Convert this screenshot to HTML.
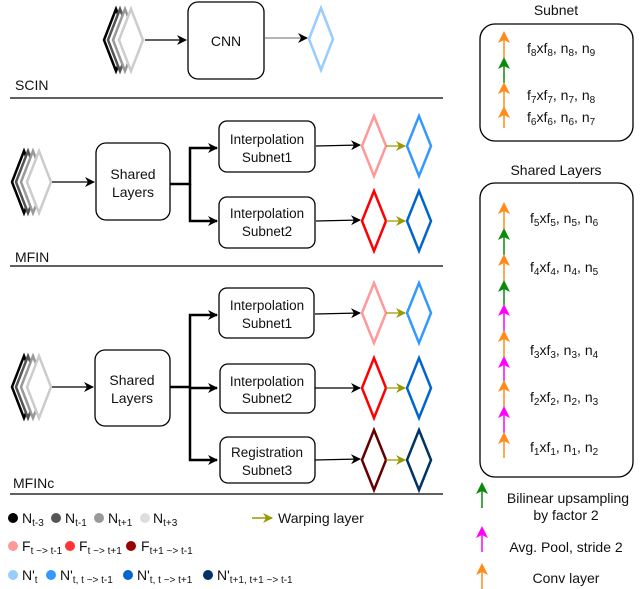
<!DOCTYPE html>
<html><head><meta charset="utf-8"><style>
body{margin:0;background:#fff}
svg{display:block}
text{font-family:"Liberation Sans",sans-serif;fill:#111}
</style></head><body>
<svg width="640" height="589" viewBox="0 0 640 589" xmlns="http://www.w3.org/2000/svg">
<defs>
<marker id="ab" markerWidth="10" markerHeight="10" refX="9" refY="5" orient="auto" markerUnits="userSpaceOnUse"><path d="M0,0 L10,5 L0,10 L3,5 z" fill="#000"/></marker>
<marker id="ao" markerWidth="10" markerHeight="10" refX="9" refY="5" orient="auto" markerUnits="userSpaceOnUse"><path d="M0,0 L10,5 L0,10 L3,5 z" fill="#999900"/></marker>
<marker id="aor" markerWidth="12" markerHeight="12" refX="10" refY="6" orient="auto" markerUnits="userSpaceOnUse"><path d="M0,0 L12,6 L0,12 L3,6 z" fill="#ff8c1a"/></marker>
<marker id="agr" markerWidth="12" markerHeight="12" refX="10" refY="6" orient="auto" markerUnits="userSpaceOnUse"><path d="M0,0 L12,6 L0,12 L3,6 z" fill="#0a8a0a"/></marker>
<marker id="amg" markerWidth="12" markerHeight="12" refX="10" refY="6" orient="auto" markerUnits="userSpaceOnUse"><path d="M0,0 L12,6 L0,12 L3,6 z" fill="#ff00ff"/></marker>
<g id="stack" fill="#fff" stroke-width="2.5">
<polygon points="12,0 24,-31 36,0 24,31" stroke="#000" transform="translate(0,0)"/>
</g>
</defs>

<!-- stacks -->
<g fill="#fff" stroke-width="2.5">
<g transform="translate(92,40)">
<polygon points="0,0 12,-31 24,0 12,31" stroke="#000" transform="translate(12,0)"/>
<polygon points="0,0 12,-31 24,0 12,31" stroke="#555" transform="translate(16,0)"/>
<polygon points="0,0 12,-31 24,0 12,31" stroke="#999" transform="translate(21,0)"/>
<polygon points="0,0 12,-31 24,0 12,31" stroke="#ccc" transform="translate(27,0)"/>
</g>
<g transform="translate(0,182)">
<polygon points="0,0 12,-31 24,0 12,31" stroke="#000" transform="translate(12,0)"/>
<polygon points="0,0 12,-31 24,0 12,31" stroke="#555" transform="translate(16,0)"/>
<polygon points="0,0 12,-31 24,0 12,31" stroke="#999" transform="translate(21,0)"/>
<polygon points="0,0 12,-31 24,0 12,31" stroke="#ccc" transform="translate(27,0)"/>
</g>
<g transform="translate(0,387)">
<polygon points="0,0 12,-31 24,0 12,31" stroke="#000" transform="translate(12,0)"/>
<polygon points="0,0 12,-31 24,0 12,31" stroke="#555" transform="translate(16,0)"/>
<polygon points="0,0 12,-31 24,0 12,31" stroke="#999" transform="translate(21,0)"/>
<polygon points="0,0 12,-31 24,0 12,31" stroke="#ccc" transform="translate(27,0)"/>
</g>
</g>

<!-- SCIN -->
<line x1="145" y1="40" x2="186" y2="40" stroke="#000" stroke-width="1.3" marker-end="url(#ab)"/>
<rect x="188" y="2" width="76" height="77" rx="10" fill="#fff" stroke="#000" stroke-width="1.3"/>
<text x="226" y="46" font-size="14" text-anchor="middle">CNN</text>
<line x1="265" y1="38" x2="307" y2="38" stroke="#888" stroke-width="1.3" marker-end="url(#ab)"/>
<polygon points="309,39 321,8 333,39 321,70" fill="none" stroke="#99ccff" stroke-width="2.5"/>
<text x="15" y="90" font-size="14">SCIN</text>
<line x1="10" y1="98" x2="443" y2="98" stroke="#000" stroke-width="1.3"/>

<!-- MFIN -->
<line x1="52" y1="182" x2="94" y2="182" stroke="#000" stroke-width="1.3" marker-end="url(#ab)"/>
<rect x="96" y="143" width="74" height="77" rx="10" fill="#fff" stroke="#000" stroke-width="1.3"/>
<text x="133" y="179" font-size="14" text-anchor="middle">Shared</text>
<text x="133" y="197" font-size="14" text-anchor="middle">Layers</text>
<polyline points="170,184 190,184 190,148 217,148" fill="none" stroke="#000" stroke-width="2.5" marker-end="url(#ab)"/>
<polyline points="190,184 190,221 217,221" fill="none" stroke="#000" stroke-width="2.5" marker-end="url(#ab)"/>
<rect x="219" y="121" width="96" height="51" rx="8" fill="#fff" stroke="#000" stroke-width="1.3"/>
<text x="267" y="144" font-size="13.5" text-anchor="middle">Interpolation</text>
<text x="267" y="162" font-size="13.5" text-anchor="middle">Subnet1</text>
<rect x="219" y="197" width="96" height="51" rx="8" fill="#fff" stroke="#000" stroke-width="1.3"/>
<text x="267" y="218" font-size="13.5" text-anchor="middle">Interpolation</text>
<text x="267" y="236" font-size="13.5" text-anchor="middle">Subnet2</text>
<line x1="316" y1="146" x2="360" y2="145" stroke="#000" stroke-width="1.3" marker-end="url(#ab)"/>
<line x1="316" y1="221" x2="360" y2="220" stroke="#000" stroke-width="1.3" marker-end="url(#ab)"/>
<polygon points="362,146 374,116 386,146 374,176" fill="none" stroke="#ff9999" stroke-width="2.5"/>
<polygon points="407,146 419,116 431,146 419,176" fill="none" stroke="#3399ff" stroke-width="2.5"/>
<line x1="386" y1="146" x2="405" y2="146" stroke="#999900" stroke-width="1.3" marker-end="url(#ao)"/>
<polygon points="362,221 374,191 386,221 374,251" fill="none" stroke="#ff0000" stroke-width="2.5"/>
<polygon points="407,221 419,191 431,221 419,251" fill="none" stroke="#0066cc" stroke-width="2.5"/>
<line x1="386" y1="221" x2="405" y2="221" stroke="#999900" stroke-width="1.3" marker-end="url(#ao)"/>
<text x="15" y="262" font-size="14">MFIN</text>
<line x1="10" y1="266" x2="443" y2="266" stroke="#000" stroke-width="1.3"/>

<!-- MFINc -->
<line x1="52" y1="387" x2="93" y2="387" stroke="#000" stroke-width="1.3" marker-end="url(#ab)"/>
<rect x="95" y="350" width="75" height="76" rx="10" fill="#fff" stroke="#000" stroke-width="1.3"/>
<text x="132" y="385" font-size="14" text-anchor="middle">Shared</text>
<text x="132" y="403" font-size="14" text-anchor="middle">Layers</text>
<polyline points="170,387 190,387 190,315 217,315" fill="none" stroke="#000" stroke-width="2.5" marker-end="url(#ab)"/>
<line x1="190" y1="388" x2="217" y2="388" stroke="#000" stroke-width="2.5" marker-end="url(#ab)"/>
<polyline points="190,387 190,460 217,460" fill="none" stroke="#000" stroke-width="2.5" marker-end="url(#ab)"/>
<rect x="219" y="288" width="95" height="50" rx="8" fill="#fff" stroke="#000" stroke-width="1.3"/>
<text x="267" y="310" font-size="13.5" text-anchor="middle">Interpolation</text>
<text x="267" y="328" font-size="13.5" text-anchor="middle">Subnet1</text>
<rect x="220" y="364" width="95" height="49" rx="8" fill="#fff" stroke="#000" stroke-width="1.3"/>
<text x="267" y="386" font-size="13.5" text-anchor="middle">Interpolation</text>
<text x="267" y="403" font-size="13.5" text-anchor="middle">Subnet2</text>
<rect x="220" y="437" width="95" height="46" rx="8" fill="#fff" stroke="#000" stroke-width="1.3"/>
<text x="267" y="457" font-size="13.5" text-anchor="middle">Registration</text>
<text x="267" y="475" font-size="13.5" text-anchor="middle">Subnet3</text>
<line x1="315" y1="314" x2="360" y2="313" stroke="#000" stroke-width="1.3" marker-end="url(#ab)"/>
<line x1="315" y1="388" x2="360" y2="388" stroke="#000" stroke-width="1.3" marker-end="url(#ab)"/>
<line x1="315" y1="460" x2="360" y2="459" stroke="#000" stroke-width="1.3" marker-end="url(#ab)"/>
<polygon points="362,313 374,283 386,313 374,343" fill="none" stroke="#ff9999" stroke-width="2.5"/>
<polygon points="407,313 419,283 431,313 419,343" fill="none" stroke="#3399ff" stroke-width="2.5"/>
<line x1="386" y1="313" x2="405" y2="313" stroke="#999900" stroke-width="1.3" marker-end="url(#ao)"/>
<polygon points="362,388 374,358 386,388 374,418" fill="none" stroke="#ff0000" stroke-width="2.5"/>
<polygon points="407,388 419,358 431,388 419,418" fill="none" stroke="#0066cc" stroke-width="2.5"/>
<line x1="386" y1="388" x2="405" y2="388" stroke="#999900" stroke-width="1.3" marker-end="url(#ao)"/>
<polygon points="362,460 374,430 386,460 374,490" fill="none" stroke="#660000" stroke-width="2.5"/>
<polygon points="407,460 419,430 431,460 419,490" fill="none" stroke="#003366" stroke-width="2.5"/>
<line x1="386" y1="460" x2="405" y2="460" stroke="#999900" stroke-width="1.3" marker-end="url(#ao)"/>
<text x="13" y="488" font-size="14">MFINc</text>
<line x1="10" y1="494" x2="443" y2="494" stroke="#000" stroke-width="1.3"/>

<!-- legend left -->
<g font-size="14">
<circle cx="13" cy="518" r="5" fill="#000"/><text x="22" y="523">N<tspan font-size="10" dy="3">t-3</tspan></text>
<circle cx="56" cy="518" r="5" fill="#555"/><text x="65" y="523">N<tspan font-size="10" dy="3">t-1</tspan></text>
<circle cx="99" cy="518" r="5" fill="#999"/><text x="108" y="523">N<tspan font-size="10" dy="3">t+1</tspan></text>
<circle cx="145" cy="518" r="5" fill="#ddd"/><text x="153" y="523">N<tspan font-size="10" dy="3">t+3</tspan></text>
<line x1="252" y1="518" x2="272" y2="518" stroke="#999900" stroke-width="1.5" marker-end="url(#ao)"/>
<text x="278" y="523">Warping layer</text>
<circle cx="13" cy="546" r="5" fill="#ff9999"/><text x="22" y="551">F<tspan font-size="10" dy="3">t ~&gt; t-1</tspan></text>
<circle cx="70" cy="546" r="5" fill="#ff3333"/><text x="79" y="551">F<tspan font-size="10" dy="3">t ~&gt; t+1</tspan></text>
<circle cx="131" cy="546" r="5" fill="#990000"/><text x="141" y="551">F<tspan font-size="10" dy="3">t+1 ~&gt; t-1</tspan></text>
<circle cx="13" cy="575" r="5" fill="#99ccff"/><text x="22" y="580">N'<tspan font-size="10" dy="3">t</tspan></text>
<circle cx="51" cy="575" r="5" fill="#3399ff"/><text x="60" y="580">N'<tspan font-size="10" dy="3">t, t ~&gt; t-1</tspan></text>
<circle cx="128" cy="575" r="5" fill="#0066cc"/><text x="137" y="580">N'<tspan font-size="10" dy="3">t, t ~&gt; t+1</tspan></text>
<circle cx="208" cy="575" r="5" fill="#003366"/><text x="217" y="580">N'<tspan font-size="10" dy="3">t+1, t+1 ~&gt; t-1</tspan></text>
</g>

<!-- Subnet -->
<text x="556" y="15" font-size="14" text-anchor="middle">Subnet</text>
<rect x="480" y="24" width="153" height="117" rx="15" fill="#fff" stroke="#000" stroke-width="1.3"/>
<g stroke-width="1.5">
<line x1="504" y1="58" x2="504" y2="33" stroke="#ff8c1a" marker-end="url(#aor)"/>
<line x1="504" y1="83" x2="504" y2="59" stroke="#0a8a0a" marker-end="url(#agr)"/>
<line x1="504" y1="107" x2="504" y2="84" stroke="#ff8c1a" marker-end="url(#aor)"/>
<line x1="504" y1="128" x2="504" y2="108" stroke="#ff8c1a" marker-end="url(#aor)"/>
</g>
<g font-size="14">
<text x="527" y="53">f<tspan font-size="10" dy="3">8</tspan><tspan dy="-3">xf</tspan><tspan font-size="10" dy="3">8</tspan><tspan dy="-3">, n</tspan><tspan font-size="10" dy="3">8</tspan><tspan dy="-3">, n</tspan><tspan font-size="10" dy="3">9</tspan></text>
<text x="527" y="100">f<tspan font-size="10" dy="3">7</tspan><tspan dy="-3">xf</tspan><tspan font-size="10" dy="3">7</tspan><tspan dy="-3">, n</tspan><tspan font-size="10" dy="3">7</tspan><tspan dy="-3">, n</tspan><tspan font-size="10" dy="3">8</tspan></text>
<text x="527" y="122">f<tspan font-size="10" dy="3">6</tspan><tspan dy="-3">xf</tspan><tspan font-size="10" dy="3">6</tspan><tspan dy="-3">, n</tspan><tspan font-size="10" dy="3">6</tspan><tspan dy="-3">, n</tspan><tspan font-size="10" dy="3">7</tspan></text>
</g>

<!-- Shared Layers -->
<text x="556" y="175" font-size="14" text-anchor="middle">Shared Layers</text>
<rect x="480" y="183" width="153" height="294" rx="15" fill="#fff" stroke="#000" stroke-width="1.3"/>
<g stroke-width="1.5">
<line x1="504" y1="229" x2="504" y2="204" stroke="#ff8c1a" marker-end="url(#aor)"/>
<line x1="504" y1="255" x2="504" y2="230" stroke="#0a8a0a" marker-end="url(#agr)"/>
<line x1="504" y1="281" x2="504" y2="256" stroke="#ff8c1a" marker-end="url(#aor)"/>
<line x1="504" y1="305" x2="504" y2="282" stroke="#0a8a0a" marker-end="url(#agr)"/>
<line x1="504" y1="331" x2="504" y2="306" stroke="#ff00ff" marker-end="url(#amg)"/>
<line x1="504" y1="357" x2="504" y2="332" stroke="#ff8c1a" marker-end="url(#aor)"/>
<line x1="504" y1="381" x2="504" y2="358" stroke="#ff00ff" marker-end="url(#amg)"/>
<line x1="504" y1="407" x2="504" y2="382" stroke="#ff8c1a" marker-end="url(#aor)"/>
<line x1="504" y1="433" x2="504" y2="408" stroke="#ff00ff" marker-end="url(#amg)"/>
<line x1="504" y1="458" x2="504" y2="434" stroke="#ff8c1a" marker-end="url(#aor)"/>
</g>
<g font-size="14">
<text x="530" y="223">f<tspan font-size="10" dy="3">5</tspan><tspan dy="-3">xf</tspan><tspan font-size="10" dy="3">5</tspan><tspan dy="-3">, n</tspan><tspan font-size="10" dy="3">5</tspan><tspan dy="-3">, n</tspan><tspan font-size="10" dy="3">6</tspan></text>
<text x="530" y="272">f<tspan font-size="10" dy="3">4</tspan><tspan dy="-3">xf</tspan><tspan font-size="10" dy="3">4</tspan><tspan dy="-3">, n</tspan><tspan font-size="10" dy="3">4</tspan><tspan dy="-3">, n</tspan><tspan font-size="10" dy="3">5</tspan></text>
<text x="530" y="355">f<tspan font-size="10" dy="3">3</tspan><tspan dy="-3">xf</tspan><tspan font-size="10" dy="3">3</tspan><tspan dy="-3">, n</tspan><tspan font-size="10" dy="3">3</tspan><tspan dy="-3">, n</tspan><tspan font-size="10" dy="3">4</tspan></text>
<text x="530" y="402">f<tspan font-size="10" dy="3">2</tspan><tspan dy="-3">xf</tspan><tspan font-size="10" dy="3">2</tspan><tspan dy="-3">, n</tspan><tspan font-size="10" dy="3">2</tspan><tspan dy="-3">, n</tspan><tspan font-size="10" dy="3">3</tspan></text>
<text x="530" y="452">f<tspan font-size="10" dy="3">1</tspan><tspan dy="-3">xf</tspan><tspan font-size="10" dy="3">1</tspan><tspan dy="-3">, n</tspan><tspan font-size="10" dy="3">1</tspan><tspan dy="-3">, n</tspan><tspan font-size="10" dy="3">2</tspan></text>
</g>

<!-- right legend -->
<g stroke-width="1.5">
<line x1="482" y1="508" x2="482" y2="484" stroke="#0a8a0a" marker-end="url(#agr)"/>
<line x1="482" y1="552" x2="482" y2="528" stroke="#ff00ff" marker-end="url(#amg)"/>
<line x1="482" y1="589" x2="482" y2="565" stroke="#ff8c1a" marker-end="url(#aor)"/>
</g>
<g font-size="14" text-anchor="middle">
<text x="568" y="503">Bilinear upsampling</text>
<text x="566" y="520">by factor 2</text>
<text x="566" y="552">Avg. Pool, stride 2</text>
<text x="566" y="583">Conv layer</text>
</g>
</svg>
</body></html>
